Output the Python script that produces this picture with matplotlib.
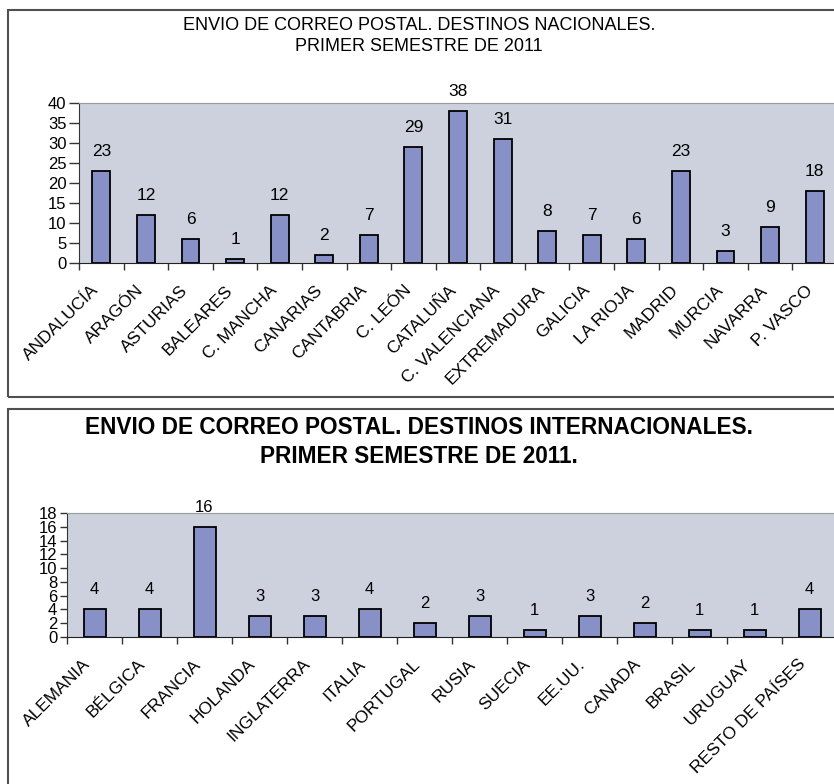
import numpy as np
import matplotlib
matplotlib.use("Agg")
import matplotlib.pyplot as plt
from matplotlib.patches import Rectangle
from matplotlib.transforms import ScaledTranslation

plt.rcParams["font.family"] = ["Liberation Sans", "DejaVu Sans"]

# --- data ---
nac_labels = ["ANDALUCÍA", "ARAGÓN", "ASTURIAS", "BALEARES", "C. MANCHA", "CANARIAS",
              "CANTABRIA", "C. LEÓN", "CATALUÑA", "C. VALENCIANA", "EXTREMADURA",
              "GALICIA", "LA RIOJA", "MADRID", "MURCIA", "NAVARRA", "P. VASCO"]
nac_values = [23, 12, 6, 1, 12, 2, 7, 29, 38, 31, 8, 7, 6, 23, 3, 9, 18]
nac_yticks = [0, 5, 10, 15, 20, 25, 30, 35, 40]

int_labels = ["ALEMANIA", "BÉLGICA", "FRANCIA", "HOLANDA", "INGLATERRA", "ITALIA",
              "PORTUGAL", "RUSIA", "SUECIA", "EE.UU.", "CANADA", "BRASIL", "URUGUAY",
              "RESTO DE PAÍSES"]
int_values = [4, 4, 16, 3, 3, 4, 2, 3, 1, 3, 2, 1, 1, 4]
int_yticks = [0, 2, 4, 6, 8, 10, 12, 14, 16, 18]

W, H = 834, 784
BAR = "#8890c8"
BG = "#cdd1de"

fig = plt.figure(figsize=(W / 100, H / 100), dpi=100)


def px_rect(x0, y0, x1, y1):
    """pixel box (top-left origin) -> figure fraction [l, b, w, h]"""
    return [x0 / W, 1 - y1 / H, (x1 - x0) / W, (y1 - y0) / H]


def frame(x0, y0, x1, y1):
    l, b, w, h = px_rect(x0, y0, x1, y1)
    fig.add_artist(Rectangle((l, b), w, h, transform=fig.transFigure, fill=False,
                             ec="#505050", lw=1.5))


def bar_panel(rect, labels, values, yticks, tick_fs, lab_fs, val_fs, ytick_len, lab_dx):
    ax = fig.add_axes(px_rect(*rect))
    x = np.arange(len(values))
    ax.bar(x, values, width=0.4, color=BAR, edgecolor="black", lw=1.3, zorder=3)
    ax.set_facecolor(BG)
    ax.set_xlim(-0.5, len(values) - 0.5)
    ax.set_ylim(yticks[0], yticks[-1])
    ax.set_yticks(yticks)
    ax.tick_params(axis="y", length=ytick_len, width=1, color="#333333", pad=2,
                   labelsize=tick_fs)
    # category boundaries carry the ticks, labels sit at centres
    ax.set_xticks(x - 0.5, minor=True)
    ax.set_xticks(x)
    ax.tick_params(axis="x", which="minor", length=5, width=1, color="#333333")
    ax.tick_params(axis="x", which="major", length=0, pad=14)
    ax.set_xticklabels(labels, rotation=45, ha="right", rotation_mode="anchor",
                       fontsize=lab_fs)
    off = ScaledTranslation(lab_dx / 100, 0, fig.dpi_scale_trans)
    for t in ax.get_xticklabels():
        t.set_transform(t.get_transform() + off)
    ax.spines["right"].set_visible(False)
    ax.spines["top"].set_color("#999999")
    ax.spines["left"].set_color("#333333")
    ax.spines["bottom"].set_color("#222222")
    for xi, v in zip(x, values):
        ax.annotate(str(v), (xi, v), xytext=(0, 14), textcoords="offset points",
                    ha="center", va="center", fontsize=val_fs, clip_on=False)
    return ax


# top chart
frame(8, 10, W + 20, 397)
fig.text(419 / W, 1 - 36 / H,
         "ENVIO DE CORREO POSTAL. DESTINOS NACIONALES.\nPRIMER SEMESTRE DE 2011",
         ha="center", va="center", fontsize=13, linespacing=1.33)
bar_panel((79, 103, 837, 263), nac_labels, nac_values, nac_yticks,
          tick_fs=12, lab_fs=12.5, val_fs=12.5, ytick_len=7, lab_dx=-10)

# bottom chart
frame(8, 409, W + 20, H + 20)
fig.text(419 / W, 1 - 442 / H,
         "ENVIO DE CORREO POSTAL. DESTINOS INTERNACIONALES.\nPRIMER SEMESTRE DE 2011.",
         ha="center", va="center", fontsize=16.3, fontweight="bold", linespacing=1.3)
bar_panel((67, 513, 837, 637), int_labels, int_values, int_yticks,
          tick_fs=12, lab_fs=12.5, val_fs=12, ytick_len=5, lab_dx=-12)

fig.savefig("out.png", dpi=100)
